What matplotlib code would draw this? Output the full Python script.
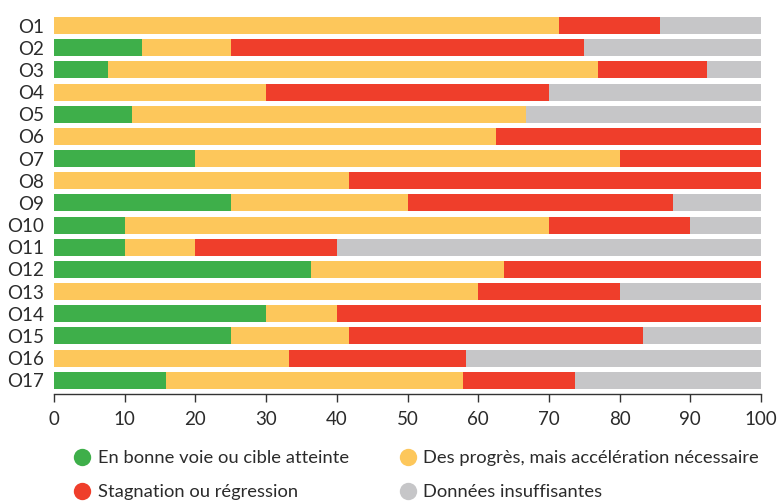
import matplotlib
matplotlib.use("Agg")
import matplotlib.pyplot as plt
from matplotlib.lines import Line2D
import numpy as np

categories = [f"O{i}" for i in range(1, 18)]
on_track = [0, 12.5, 7.7, 0, 11.1, 0, 20, 0, 25, 10, 10, 36.4, 0, 30, 25, 0, 15.8]
progress = [71.4, 12.5, 69.2, 30, 55.6, 62.5, 60, 41.7, 25, 60, 10, 27.2, 60, 10, 16.7, 33.3, 42.1]
stagnation = [14.3, 50, 15.4, 40, 0, 37.5, 20, 58.3, 37.5, 20, 20, 36.4, 20, 60, 41.6, 25, 15.8]
insufficient = [14.3, 25, 7.7, 30, 33.3, 0, 0, 0, 12.5, 10, 60, 0, 20, 0, 16.7, 41.7, 26.3]

series_labels = ["En bonne voie ou cible atteinte",
                 "Des progrès, mais accélération nécessaire",
                 "Stagnation ou régression",
                 "Données insuffisantes"]
colors = ["#3EAF4A", "#FDC75B", "#EF3E2B", "#C6C6C8"]
xticks = [0, 10, 20, 30, 40, 50, 60, 70, 80, 90, 100]

plt.rcParams['font.family'] = ['Lato', 'DejaVu Sans']

fig = plt.figure(figsize=(7.78, 5.03), dpi=100)
ax = fig.add_axes([54/778, 1-394/503, (761-54)/778, (394-17)/503])

y = np.arange(len(categories))
left = np.zeros(len(categories))
for vals, c in zip([on_track, progress, stagnation, insufficient], colors):
    vals = np.array(vals, dtype=float)
    ax.barh(y, vals, left=left, height=0.77, color=c, linewidth=0)
    left += vals

ax.set_xlim(0, 100)
ax.set_ylim(16.62, -0.385)
ax.set_yticks(y)
ax.set_yticklabels(categories)
ax.set_xticks(xticks)
ax.tick_params(axis='y', length=0, pad=7, labelsize=13.5, labelcolor="#2b2b2b")
ax.tick_params(axis='x', length=6, width=1, color="#333333", pad=6,
               labelsize=13.5, labelcolor="#2b2b2b")
for s in ["top", "right", "left"]:
    ax.spines[s].set_visible(False)
ax.spines["bottom"].set_color("#333333")
ax.spines["bottom"].set_linewidth(1)

handles = [Line2D([0], [0], marker='o', linestyle='', markersize=12.5,
                  markerfacecolor=c, markeredgecolor='none') for c in colors]
order = [0, 2, 1, 3]
leg = fig.legend([handles[i] for i in order], [series_labels[i] for i in order],
                 ncol=2, loc='upper left', bbox_to_anchor=(64/778, 1-443/503),
                 frameon=False, fontsize=13.2, handletextpad=0.25,
                 columnspacing=2.6, labelspacing=0.98, borderaxespad=0,
                 handlelength=1.2, labelcolor="#2b2b2b")

fig.savefig("out.png", dpi=100)
